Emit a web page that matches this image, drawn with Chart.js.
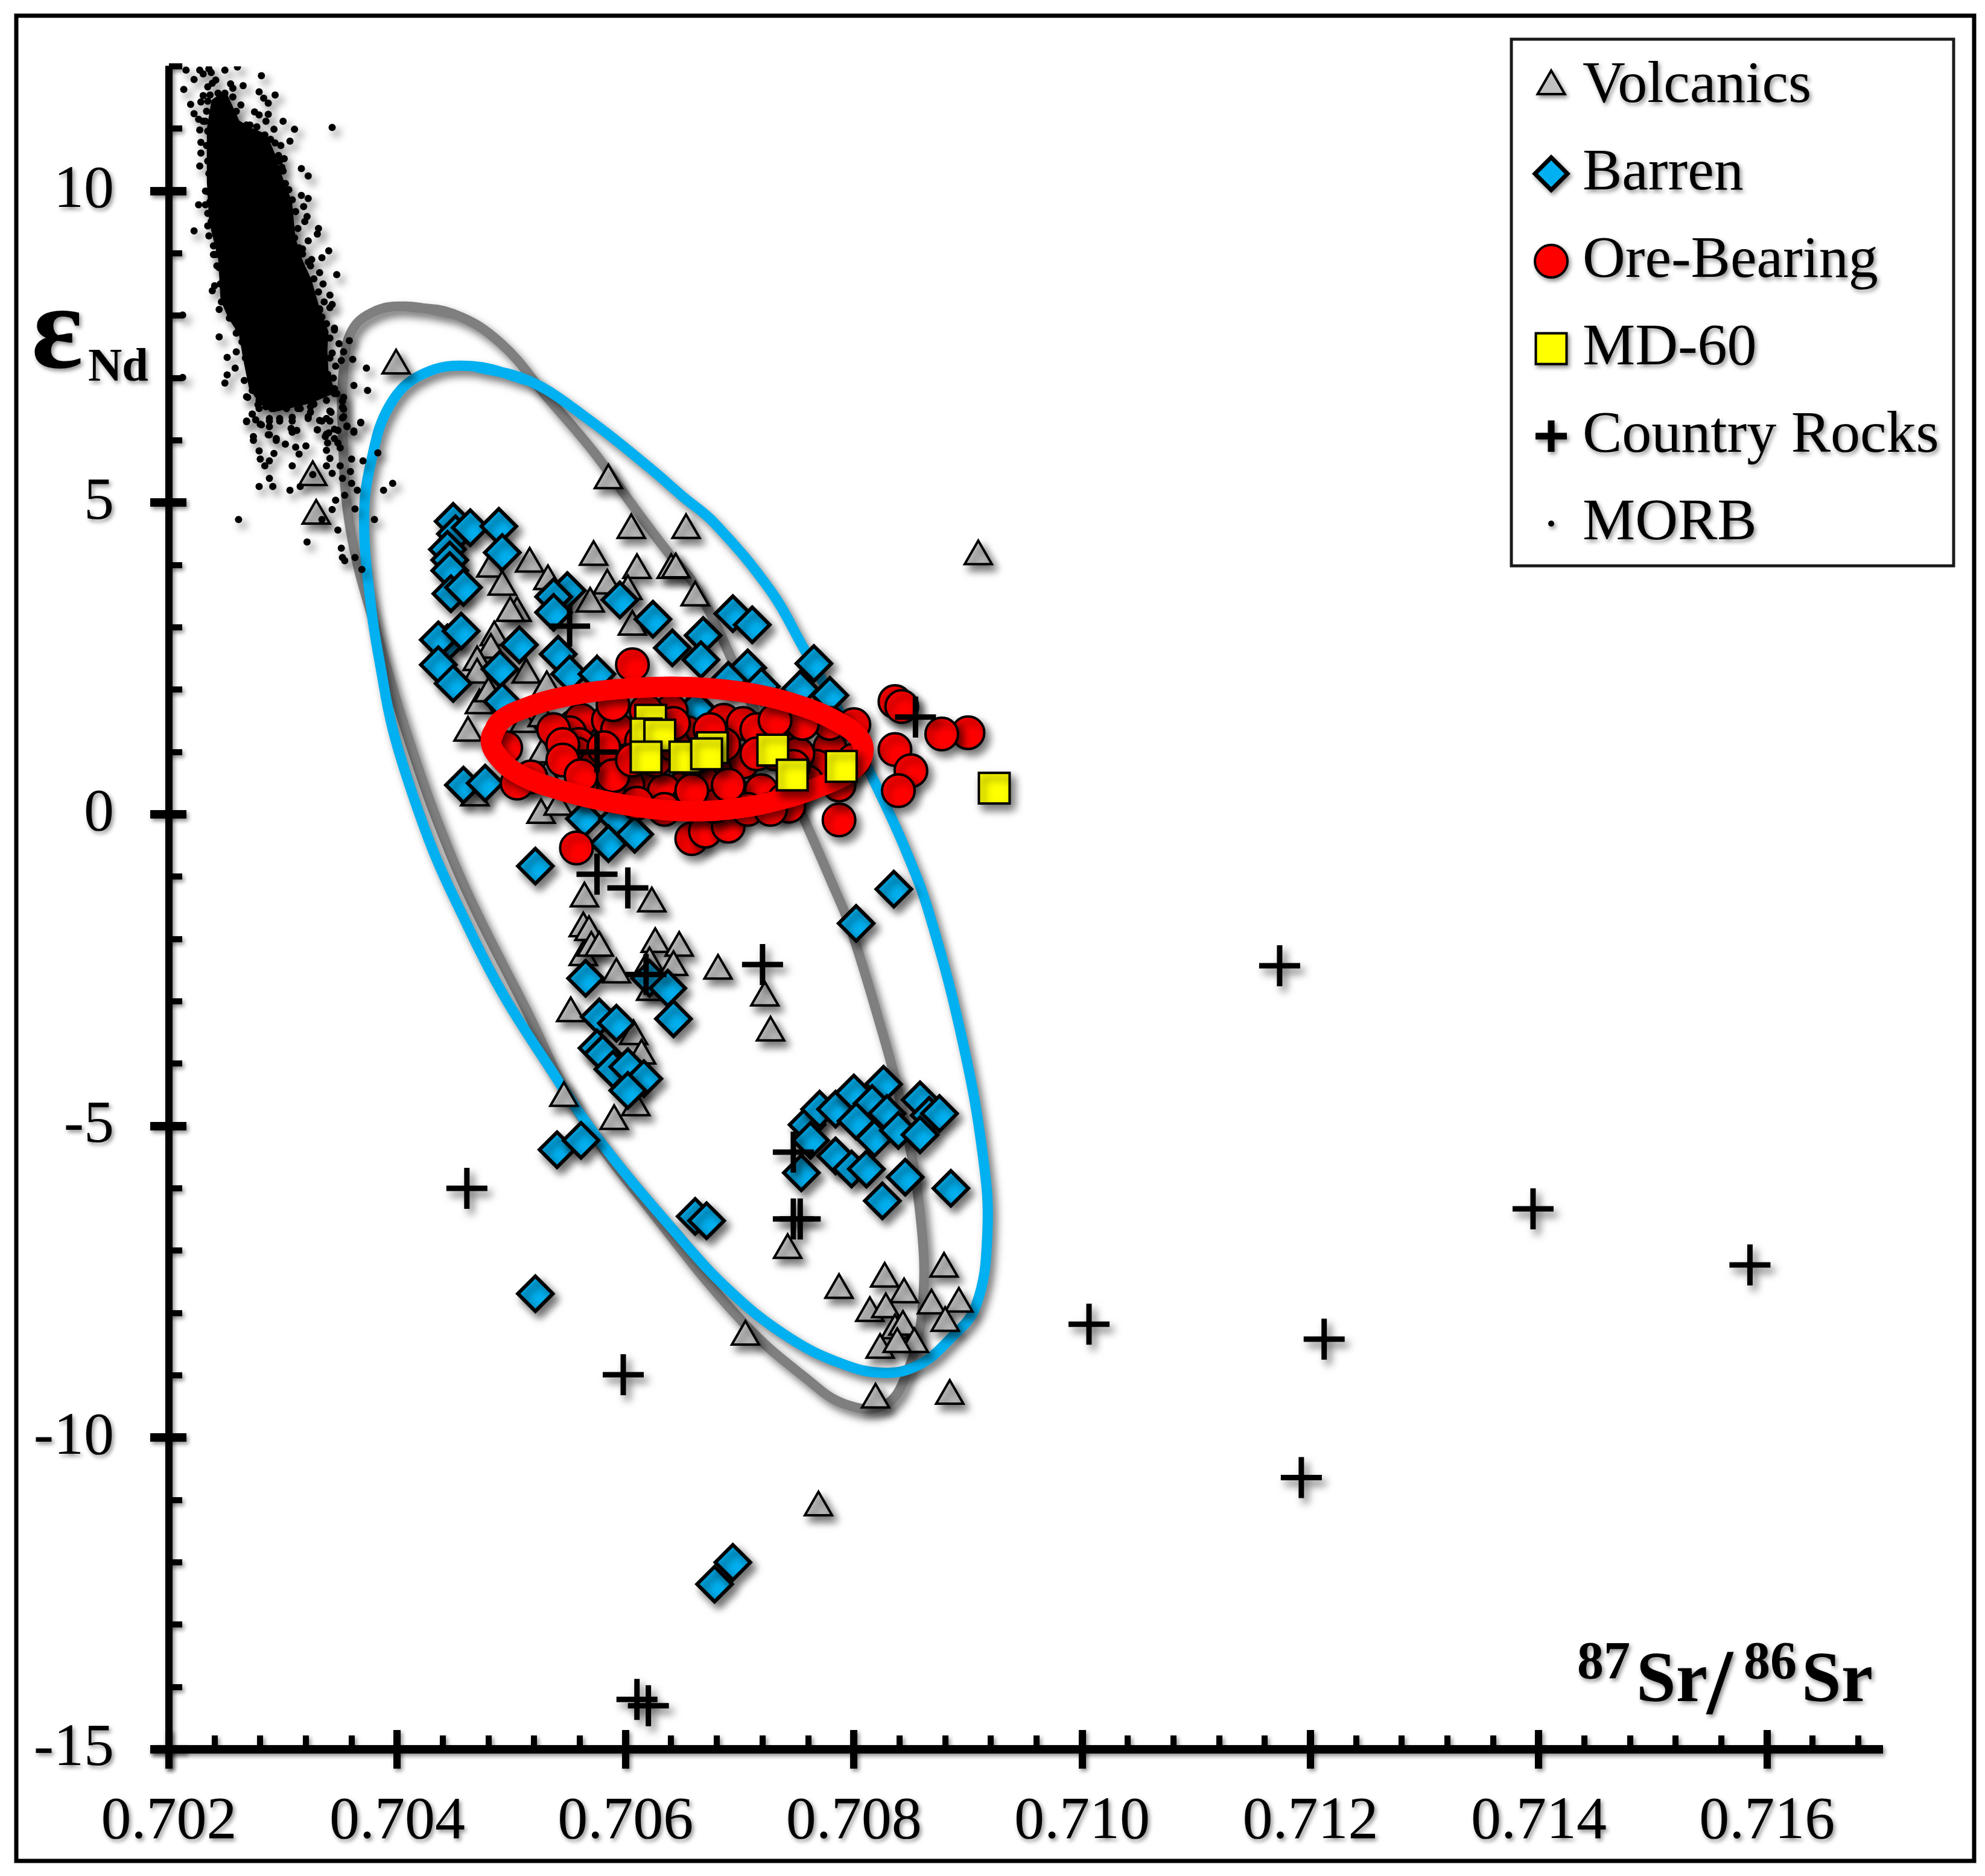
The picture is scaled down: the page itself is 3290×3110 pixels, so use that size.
<!DOCTYPE html>
<html><head><meta charset="utf-8">
<script src="https://cdn.jsdelivr.net/npm/chart.js@4"></script>
<style>html,body{margin:0;padding:0;background:#fff}canvas{display:block}</style>
</head><body>
<canvas id="c" width="3290" height="3110"></canvas>
<script>
const xTickLabels = ['0.702','0.704','0.706','0.708','0.710','0.712','0.714','0.716'];
const yTickLabels = ['-15','-10','-5','0','5','10'];
const legendNames = ['Volcanics','Barren','Ore-Bearing','MD-60','Country Rocks','MORB'];

const volcanics = [[.70326,5.41],[.70329,4.79],[.70399,7.20],[.70585,5.36],[.70605,4.56],[.70653,4.56],[.70909,4.14],[.70572,4.13],[.70516,4.02],[.70610,3.92],[.70640,3.92],[.70644,3.93],[.70482,3.94],[.70492,3.65],[.70532,3.74],[.70584,3.67],[.70661,3.48],[.70602,3.58],[.70569,3.38],[.70505,3.23],[.70499,3.23],[.70606,3.01],[.70485,2.84],[.70482,2.64],[.70470,2.44],[.70513,2.24],[.70470,2.24],[.70531,2.04],[.70472,1.75],[.70480,1.94],[.70462,1.31],[.70511,1.45],[.70527,.96],[.70526,-.01],[.70468,.27],[.70531,.61],[.70541,.12],[.70575,2.29],[.70527,1.54],
[.70564,-1.35],[.70623,-1.43],[.70563,-1.83],[.70568,-1.89],[.70563,-2.29],[.70570,-2.14],[.70577,-2.14],[.70626,-2.08],[.70647,-2.14],[.70621,-2.39],[.70642,-2.45],[.70592,-2.57],[.70681,-2.51],[.70722,-2.94],[.70727,-3.50],[.70552,-3.19],[.70622,-2.85],[.70607,-3.56],[.70614,-3.87],[.70546,-4.55],[.70590,-4.92],[.70609,-4.70],[.70742,-6.99],[.70787,-7.63],[.70827,-7.45],[.70844,-7.70],[.70879,-7.29],[.70814,-8.0],[.70828,-7.94],[.70868,-7.88],[.70892,-7.85],[.70880,-8.16],[.70836,-8.28],[.70843,-8.22],[.70823,-8.59],[.70853,-8.50],[.70838,-8.50],[.70705,-8.38],[.70819,-9.39],[.70884,-9.33],[.70769,-11.12]];

const barren = [[.70449,4.70],[.70451,4.5],[.70464,4.6],[.70489,4.62],[.70492,4.2],[.70444,4.25],[.70446,4.08],[.70446,3.91],[.70447,3.54],[.70458,3.64],[.70549,3.59],[.70537,3.49],[.70595,3.44],[.70537,3.24],[.70624,3.13],[.70694,3.22],[.70711,3.04],[.70444,2.75],[.70436,2.8],[.70456,2.94],[.70507,2.72],[.70668,2.87],[.70641,2.67],[.70541,2.57],[.70666,2.48],[.70436,2.4],[.70449,2.1],[.70490,2.33],[.70551,2.25],[.70707,2.35],[.70765,2.42],[.70575,2.25],[.70690,2.15],[.70492,1.81],[.70753,2.01],[.70719,2.05],[.70779,1.91],[.70662,1.71],[.70458,.47],[.70477,.5],[.70564,-.07],[.70593,-.07],[.70585,-.47],[.70608,-.32],[.70521,-.83],[.70835,-1.2],[.70802,-1.75],
[.70565,-2.63],[.70621,-2.63],[.70637,-2.79],[.70642,-3.28],[.70577,-3.25],[.70592,-3.35],[.70575,-3.75],[.70580,-3.84],[.70589,-4.09],[.70602,-4.05],[.70616,-4.24],[.70602,-4.43],[.70540,-5.38],[.70561,-5.23],[.70661,-6.45],[.70671,-6.52],[.70521,-7.69],[.70754,-5.75],[.70759,-4.98],[.70770,-4.73],[.70784,-4.73],[.70762,-5.23],[.70784,-5.48],[.70798,-5.69],[.70811,-5.69],[.70800,-4.47],[.70826,-4.33],[.70816,-4.64],[.70829,-4.8],[.70802,-4.92],[.70818,-5.2],[.70839,-5.07],[.70858,-4.58],[.70866,-4.83],[.70875,-4.8],[.70858,-5.14],[.70845,-5.82],[.70825,-6.2],[.70885,-6.0],[.70678,-12.35],[.70694,-12.0]];

const oreBearing = [[.70900,1.31],[.70877,1.29],[.70836,1.81],[.70842,1.73],[.70836,1.04],[.70850,.70],[.70839,.38],[.70787,-.09],[.70557,-.54],[.70658,-.39],[.70670,-.27],[.70690,-.19],[.70606,2.40],[.70800,1.44],[.70495,1.07],[.70517,.6],[.70505,.5],[.70555,1.41],[.70561,1.51],[.70551,1.31],[.70559,1.12],[.70585,1.51],[.70569,.77],[.70557,.97],[.70573,.77],[.70593,1.36],[.70589,1.76],[.70640,1.66],[.70618,1.66],[.70686,1.51],[.70654,1.31],[.70703,1.46],[.70715,1.36],[.70739,1.2],[.70779,1.07],[.70767,.77],[.70703,.84],[.70678,.72],[.70666,.57],[.70650,.42],[.70618,.57],[.70602,.47],[.70634,.38],[.70585,.38],[.70561,.42],[.70699,.28],[.70719,.38],[.70739,.23],[.70678,.13],[.70654,.18],[.70634,.08],[.70610,.18],[.70707,.08],[.70747,.38],[.70731,.97],[.70751,.97],[.70626,.87],[.70614,1.17],[.70581,1.07],[.70589,.62],[.70658,.87],[.70686,1.12],[.70800,.87],[.70787,.47],[.70759,.52],[.70743,.13],[.70727,.08],[.70537,1.36],[.70545,1.12],[.70545,.87],[.70561,.62],[.70606,.87],[.70642,1.12],[.70642,1.46],[.70674,1.36],[.70715,.97],[.70747,.77],[.70690,.47],[.70658,.38],[.70779,1.46],[.70755,1.46],[.70731,1.51]];

const md60 = [[.70622,1.51],[.70618,1.29],[.70630,1.27],[.70618,.92],[.70652,.92],[.70676,1.07],[.70671,.97],[.70729,1.03],[.70746,.63],[.70789,.77],[.70923,.42]];

const countryRocks = [[.70461,-6.0],[.70598,-8.99],[.70610,-14.2],[.70620,-14.3],[.71173,-2.43],[.71395,-6.33],[.71585,-7.23],[.71006,-8.18],[.71212,-8.42],[.71192,-10.64],[.70720,-2.41],[.70747,-5.42],[.70747,-6.49],[.70753,-6.49],[.70575,-.96],[.70602,-1.18],[.70618,-2.57],[.70575,1.0],[.70551,3.02],[.70854,1.56]];

const morbCore = [[.70249,11.6],[.70261,11.12],[.70272,11.0],[.70285,10.9],[.70292,10.6],[.70300,10.15],[.70307,9.83],[.70310,9.25],[.70316,8.9],[.70324,8.58],[.70331,8.13],[.70339,7.74],[.70338,7.45],[.70339,7.09],[.70345,6.77],[.70324,6.61],[.70295,6.48],[.70281,6.58],[.70271,6.83],[.70266,7.29],[.70262,7.71],[.70253,7.96],[.70246,8.25],[.70244,8.9],[.70236,9.51],[.70234,10.15],[.70234,11.0],[.70238,11.45],[.70249,11.6]];

const morb = [[.70215,11.94],[.70222,11.79],[.70213,11.63],[.70219,11.39],[.70227,11.94],[.70230,11.88],[.70235,11.96],[.70237,11.90],[.70249,11.94],[.70260,11.99],[.70281,11.85],[.70265,11.69],[.70254,11.72],[.70256,11.65],[.70241,11.78],[.70238,11.73],[.70234,11.67],[.70230,11.53],[.70228,11.43],[.70279,11.59],[.70283,11.49],[.70287,11.41],[.70293,11.54],[.70263,11.38],[.70222,11.24],[.70226,11.15],[.70230,11.12],[.70275,11.27],[.70279,11.22],[.70287,11.23],[.70285,11.12],[.70300,11.12],[.70292,10.99],[.70310,10.99],[.70343,11.02],[.70227,10.98],[.70228,10.78],[.70228,10.61],[.70227,10.40],[.70306,10.80],[.70298,10.73],[.70301,10.52],[.70297,10.48],[.70300,10.32],[.70316,10.36],[.70322,10.24],[.70232,10.00],[.70226,9.78],[.70232,9.78],[.70316,9.93],[.70322,9.88],[.70318,9.75],[.70311,9.67],[.70321,9.59],[.70319,9.51],[.70222,9.36],[.70234,9.44],[.70313,9.40],[.70331,9.40],[.70330,9.31],[.70322,9.20],[.70317,9.07],[.70340,9.04],[.70334,8.93],[.70325,8.90],[.70241,8.98],[.70242,8.80],[.70271,11.06],[.70289,10.83],
[.70347,8.66],[.70332,8.69],[.70327,8.59],[.70335,8.51],[.70331,8.38],[.70341,8.33],[.70336,8.22],[.70343,8.18],[.70341,8.13],[.70332,8.11],[.70334,7.98],[.70240,8.48],[.70238,8.40],[.70244,8.10],[.70212,8.01],[.70345,7.80],[.70244,7.66],[.70259,7.72],[.70341,7.64],[.70349,7.55],[.70358,7.60],[.70353,7.42],[.70361,7.30],[.70351,7.28],[.70343,7.40],[.70346,7.19],[.70259,7.42],[.70251,7.33],[.70258,7.16],[.70251,7.05],[.70249,6.92],[.70212,7.01],[.70373,7.16],[.70344,7.00],[.70362,6.88],[.70374,6.80],[.70268,6.70],[.70353,6.69],[.70352,6.53],[.70345,6.75],[.70279,6.51],[.70273,6.42],[.70268,6.31],[.70276,6.33],[.70281,6.25],[.70288,6.35],[.70288,6.22],[.70297,6.35],[.70308,6.37],[.70307,6.19],[.70312,6.16],[.70322,6.35],[.70324,6.45],[.70332,6.32],[.70342,6.45],[.70338,6.35],[.70353,6.38],[.70356,6.23],[.70368,6.29],[.70362,6.15],[.70330,6.17],[.70348,6.16],[.70340,6.12],[.70337,6.06],[.70288,6.09],[.70274,6.06],[.70294,6.03],[.70345,6.03],
[.70269,6.69],[.70268,6.30],[.70273,6.42],[.70280,6.26],[.70288,6.31],[.70287,6.09],[.70274,6.00],[.70294,6.00],[.70302,5.94],[.70308,6.13],[.70330,6.17],[.70338,6.10],[.70345,6.18],[.70356,6.22],[.70368,6.28],[.70362,6.13],[.70339,5.96],[.70348,5.96],[.70338,5.84],[.70350,5.88],[.70279,5.83],[.70292,5.79],[.70280,5.70],[.70288,5.67],[.70284,5.59],[.70308,5.59],[.70311,5.89],[.70320,5.91],[.70314,5.78],[.70341,5.71],[.70338,5.59],[.70350,5.59],[.70360,5.70],[.70359,5.50],[.70370,5.67],[.70383,5.80],[.70326,5.45],[.70343,5.47],[.70352,5.39],[.70288,5.39],[.70279,5.26],[.70291,5.26],[.70306,5.20],[.70315,5.26],[.70360,5.31],[.70365,5.20],[.70354,5.12],[.70396,5.31],[.70388,5.20],[.70346,5.04],[.70363,4.90],[.70343,4.89],[.70334,4.73],[.70261,4.73],[.70380,4.73],[.70348,4.56],[.70321,4.37],[.70351,4.27],[.70363,4.12],[.70352,4.12],[.70354,4.07],[.70369,3.93],
[.70278,6.57],[.70285,6.54],[.70292,6.51],[.70302,6.54],[.70313,6.51],[.70324,6.54],[.70341,6.47],[.70352,6.63],[.70353,6.50],[.70322,6.38],[.70334,6.31],[.70308,6.31],[.70297,6.31],[.70341,6.31],[.70352,6.36],
[.70238,10.15],[.70234,9.99],[.70236,9.83],[.70234,9.64],[.70237,9.51],[.70235,9.28],[.70239,9.12],[.70239,8.98],[.70305,10.02],[.70308,9.86],[.70307,9.67],[.70307,9.41],[.70310,9.25],[.70314,9.09],[.70317,8.99],[.70322,8.86],[.70236,11.54],[.70243,11.57],[.70249,11.57],[.70256,11.51],[.70259,11.28],[.70268,11.06],[.70277,11.03],[.70284,10.90],[.70293,10.77],[.70296,10.57],[.70299,10.38],[.70302,10.12],[.70234,11.44],[.70233,11.28],[.70232,11.12],[.70234,10.96],[.70233,10.73],[.70234,10.48],[.70235,10.28],
[.70244,8.77],[.70245,8.51],[.70246,8.22],[.70253,7.96],[.70261,7.80],[.70264,7.58],[.70267,7.32],[.70266,6.96],[.70273,6.80],[.70279,6.64],[.70290,6.51],[.70303,6.51],[.70315,6.51],[.70327,6.58],[.70338,6.64],[.70347,6.75],[.70345,6.83],[.70339,7.06],[.70341,7.32],[.70334,7.51],[.70345,7.77],[.70338,7.87],[.70332,8.09],[.70324,8.32],[.70318,8.58],[.70324,8.80]];

const grayOutline = [[.70407,8.15],[.70449,8.03],[.70490,7.57],[.70531,6.70],[.70571,5.84],[.70608,4.91],[.70636,4.23],[.70664,3.58],[.70712,1.7],[.70755,-.02],[.70781,-1.11],[.70796,-1.77],[.70822,-3.31],[.70840,-4.55],[.70858,-6.40],[.70860,-7.94],[.70846,-8.99],[.70826,-9.49],[.70792,-9.46],[.70759,-9.06],[.70705,-8.19],[.70624,-6.40],[.70557,-4.73],[.70512,-3.1],[.70470,-1.59],[.70446,-.61],[.70416,.87],[.70383,2.85],[.70359,4.57],[.70352,6.2],[.70353,7.13],[.70360,7.75],[.70379,8.06],[.70407,8.15],[.70449,8.03]];

const blueOutline = [[.70466,7.19],[.70516,6.95],[.70568,6.33],[.70623,5.53],[.70650,5.1],[.70678,4.67],[.70727,3.59],[.70755,2.70],[.70790,1.55],[.70822,.37],[.70846,-.6],[.70866,-1.59],[.70895,-3.62],[.70913,-5.47],[.70917,-6.71],[.70907,-7.88],[.70883,-8.44],[.70856,-8.84],[.70826,-8.96],[.70789,-8.81],[.70742,-8.38],[.70691,-7.64],[.70641,-6.65],[.70577,-5.23],[.70533,-4.05],[.70490,-2.8],[.70453,-1.46],[.70432,-.61],[.70412,.4],[.70396,1.37],[.70386,2.3],[.70377,3.34],[.70371,4.73],[.70377,5.65],[.70394,6.58],[.70423,7.07],[.70466,7.19],[.70516,6.95]];

const redOutline = [[.70482,1.19],[.70490,1.49],[.70513,1.71],[.70545,1.88],[.70585,1.995],[.70634,2.045],[.70678,2.015],[.70719,1.91],[.70755,1.73],[.70783,1.51],[.70804,1.24],[.70808,.97],[.70798,.70],[.70771,.45],[.70739,.25],[.70699,.10],[.70658,.05],[.70618,.10],[.70577,.23],[.70541,.40],[.70509,.62],[.70490,.89],[.70482,1.19],[.70490,1.49]];

const pts = a => a.map(p => ({x:p[0], y:p[1]}));
const SERIF = '"Liberation Serif", serif';

function legendIcon(style, radius, fill, stroke, lw){
  const cv = document.createElement('canvas'); cv.width = 100; cv.height = 100;
  const g = cv.getContext('2d');
  g.fillStyle = fill; g.strokeStyle = stroke; g.lineWidth = lw; g.lineJoin = 'miter';
  Chart.helpers.drawPoint(g, {pointStyle:style, radius:radius, rotation:0, borderWidth:lw}, 50, 50);
  return cv;
}

const framePlugin = {
  id:'frame',
  beforeDraw(chart){
    const c = chart.ctx;
    c.save();
    c.strokeStyle = '#000'; c.lineWidth = 7;
    c.strokeRect(27, 26, 3245, 3059);
    c.strokeStyle = '#1a1a1a'; c.lineWidth = 5;
    c.strokeRect(2505, 65, 733, 873);
    c.shadowColor = 'rgba(0,0,0,0.45)'; c.shadowBlur = 7; c.shadowOffsetX = 3; c.shadowOffsetY = 4;
    const L = chart.legend;
    L.left = 2521; L.top = 47; L.right = 3236; L.bottom = 1100; L.width = 715; L.height = 1053;
  },
  beforeDatasetsDraw(chart){
    const c = chart.ctx, xs = chart.scales.x, ys = chart.scales.y;
    const b = ys.bottom, l = xs.left;
    c.fillStyle = '#000';
    c.fillRect(l-31, b-7, xs.right-l+34, 14);
    c.fillRect(l-6, ys.top-1, 12, b-ys.top+33);
    xs.ticks.forEach(t => {
      const p = Math.round(xs.getPixelForValue(t.value));
      if (t.label) c.fillRect(p-6, b-32, 12, 64);
      else c.fillRect(p-5, b-23, 10, 20);
    });
    ys.ticks.forEach(t => {
      const p = Math.round(ys.getPixelForValue(t.value));
      if (t.label) c.fillRect(l-31, p-7, 60, 14);
      else c.fillRect(l, p-5, 22, 10);
    });
    c.font = 'bold 200px '+SERIF; c.textBaseline = 'alphabetic'; c.textAlign = 'left';
    c.fillText('ε', 52, 609);
    c.font = 'bold 78px '+SERIF; c.fillText('Nd', 146, 631);
    c.font = 'bold 88px '+SERIF; c.fillText('87', 2614, 2782);
    c.font = 'bold 118px '+SERIF; c.fillText('Sr', 2712, 2820);
    c.font = 'bold 155px '+SERIF; c.fillText('/', 2829, 2840);
    c.font = 'bold 88px '+SERIF; c.fillText('86', 2890, 2782);
    c.font = 'bold 118px '+SERIF; c.fillText('Sr', 2986, 2820);
    c.shadowColor = 'rgba(0,0,0,0.55)'; c.shadowBlur = 14; c.shadowOffsetX = 7; c.shadowOffsetY = 9;
  },
  afterDatasetsDraw(chart){ chart.ctx.restore(); }
};

const icons = [
  legendIcon('triangle',26,'#c0c0c0','#000',4),
  legendIcon('rectRot',27,'#00b0f0','#000',7),
  legendIcon('circle',27,'#ff0000','#000',4),
  legendIcon('rect',36,'#ffff00','#000',4),
  legendIcon('cross',26,'#000','#000',11),
  legendIcon('circle',5,'#000','#000',0)
];

const outlineSet = (label,data,color,width,order) => ({label,data:pts(data),showLine:true,borderColor:color,borderWidth:width,pointRadius:0,tension:0.4,fill:false,order,borderJoinStyle:'round',borderCapStyle:'round'});
const pointSet = (label,data,style,radius,fill,stroke,lw,order) => ({label,data:pts(data),showLine:false,pointStyle:style,pointRadius:radius,backgroundColor:fill,borderColor:stroke,pointBorderWidth:lw,borderWidth:lw,order});

new Chart(document.getElementById('c'), {
  type:'scatter',
  data:{datasets:[
    outlineSet('Volcanics field',grayOutline,'#7f7f7f',16,90),
    outlineSet('Barren field',blueOutline,'#00b0f0',17,80),
    pointSet('Volcanics',volcanics,'triangle',26,'#c0c0c0','#000',4,70),
    {label:'MORB field',data:pts(morbCore),showLine:true,fill:'shape',backgroundColor:'#000',borderColor:'#000',borderWidth:3,pointRadius:0,tension:0,order:62},
    pointSet('MORB',morb,'circle',6,'#000','#000',0,60),
    pointSet('Barren',barren,'rectRot',29,'#00b0f0','#000',6,50),
    pointSet('Ore-Bearing',oreBearing,'circle',27,'#ff0000','#000',4,40),
    outlineSet('Ore-Bearing field',redOutline,'#ff0000',34,30),
    pointSet('Country Rocks',countryRocks,'cross',34,'#000','#000',9,20),
    pointSet('MD-60',md60,'rect',36,'#ffff00','#000',4,10)
  ]},
  options:{
    responsive:false, devicePixelRatio:1, animation:false,
    layout:{padding:{left:0,top:110,right:172,bottom:0}},
    plugins:{
      tooltip:{enabled:false}, title:{display:false},
      legend:{
        display:true, position:'chartArea', align:'start',
        onClick:null,
        labels:{
          usePointStyle:true, boxWidth:6, boxHeight:6, padding:47,
          color:'#000', font:{family:SERIF,size:98},
          generateLabels:() => legendNames.map((n,i) => ({text:n,pointStyle:icons[i],fontColor:'#000',lineWidth:0,hidden:false,datasetIndex:i}))
        }
      }
    },
    scales:{
      x:{
        type:'linear', min:0.702, max:0.717,
        afterBuildTicks(s){ const v=[]; for(let i=0;i<=37;i++) v.push({value:Math.round((0.702+i*0.0004)*1e4)/1e4}); s.ticks=v; },
        afterFit(s){ s.height = 210; s.paddingLeft = 0; s.paddingRight = 0; },
        grid:{display:false,drawTicks:false}, border:{display:false},
        ticks:{autoSkip:false,maxRotation:0,minRotation:0,padding:71,color:'#000',font:{family:SERIF,size:100,lineHeight:1},
          callback:v => xTickLabels.find(l => Math.abs(parseFloat(l)-v)<1e-6) || ''}
      },
      y:{
        type:'linear', min:-15, max:12,
        afterBuildTicks(s){ const v=[]; for(let i=-15;i<=12;i++) v.push({value:i}); s.ticks=v; },
        afterFit(s){ s.width = 280; s.paddingTop = 0; s.paddingBottom = 0; },
        grid:{display:false,drawTicks:false}, border:{display:false},
        ticks:{autoSkip:false,padding:91,color:'#000',font:{family:SERIF,size:100,lineHeight:1},
          callback:v => yTickLabels.find(l => parseFloat(l)===v) || ''}
      }
    }
  },
  plugins:[framePlugin]
});
</script>
</body></html>
